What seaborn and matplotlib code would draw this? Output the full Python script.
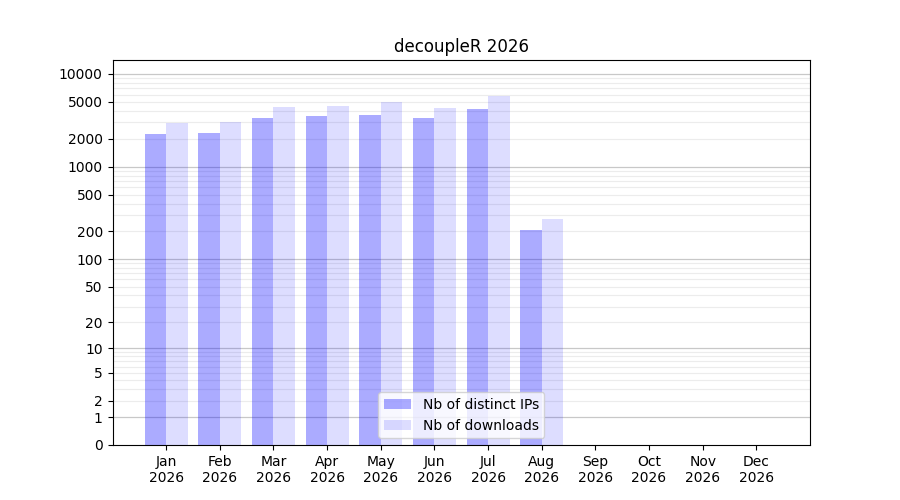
import numpy as np
import pandas as pd
import matplotlib
matplotlib.use("Agg")
import matplotlib.pyplot as plt
import seaborn as sns
from matplotlib.ticker import FixedLocator, NullLocator

# ------------ data ------------
months = ["Jan", "Feb", "Mar", "Apr", "May", "Jun",
          "Jul", "Aug", "Sep", "Oct", "Nov", "Dec"]
year = "2026"
distinct_ips = [2254, 2311, 3355, 3524, 3614, 3355, 4196, 207]
downloads = [2963, 3035, 4406, 4519, 4990, 4297, 5834, 272]

y_ticks = [0, 1, 2, 5, 10, 20, 50, 100, 200, 500, 1000, 2000, 5000, 10000]

n = len(distinct_ips)
df = pd.DataFrame({
    "month": months[:n] * 2,
    "count": distinct_ips + downloads,
    "kind": ["Nb of distinct IPs"] * n + ["Nb of downloads"] * n,
})


def fwd(y):
    return np.log10(1 + np.clip(y, 0, None))


def inv(y):
    return 10 ** y - 1


fig, ax = plt.subplots(figsize=(9, 5), dpi=100)
sns.barplot(data=df, x="month", y="count", hue="kind", order=months,
            palette=["blue", "blue"], width=0.8, saturation=1,
            errorbar=None, legend=False, ax=ax)

# semi-transparent bars so the grid shows through
alphas = [0.33, 0.135]
for cont, a in zip(ax.containers, alphas):
    for p in cont:
        p.set_alpha(a)

ax.set_yscale("function", functions=(fwd, inv))
ax.set_ylim(0, 14150)
ax.set_xlim(-1, 12)

ax.yaxis.set_major_locator(FixedLocator(y_ticks))
ax.yaxis.set_minor_locator(NullLocator())
ax.set_yticklabels([str(t) for t in y_ticks])

# grid: darker lines at decades, light lines between
for k in range(0, 5):
    ax.axhline(10 ** k, color="#c8c8c8", lw=0.9, zorder=0)
    for m in range(2, 10):
        if m * 10 ** k < 14000:
            ax.axhline(m * 10 ** k, color="#ececec", lw=0.8, zorder=0)

ax.set_xticks(range(len(months)))
ax.set_xticklabels([f"{m}\n{year}" for m in months])
ax.set_xlabel("")
ax.set_ylabel("")
ax.set_title("decoupleR 2026")
ax.legend(ax.containers, ["Nb of distinct IPs", "Nb of downloads"],
          loc="lower center")

plt.savefig("out.png", dpi=100)
